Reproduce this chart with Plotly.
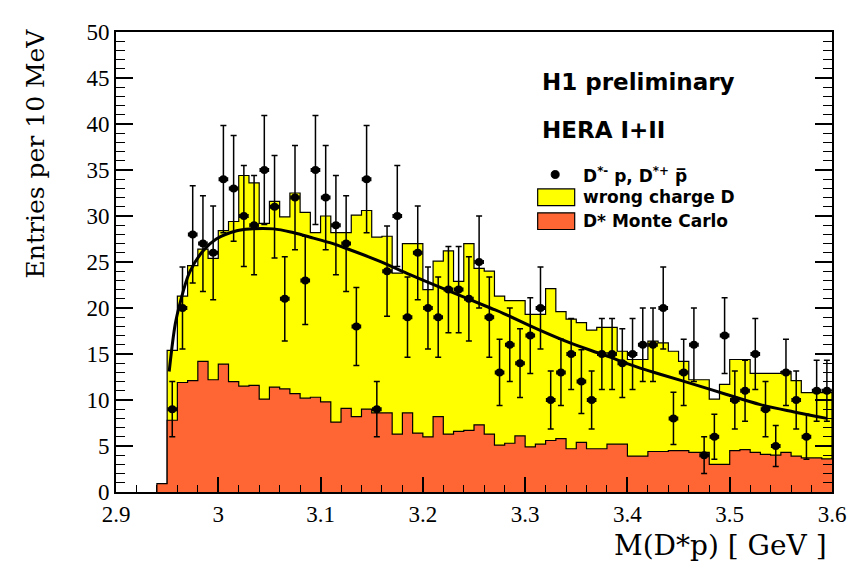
import plotly.graph_objects as go

# ---------------- data ----------------
bin_width = 0.01
wrong_charge_start = 2.95
wrong_charge = [15.4, 21.3, 24.6, 26.4, 25.4, 28.4, 29.4, 34.4, 33.6, 29.2,
                31.6, 29.9, 32.5, 30.4, 28.2, 30.0, 28.2, 28.2, 30.1, 30.6,
                27.7, 27.8, 23.8, 27.0, 27.0, 22.0, 25.1, 26.2, 22.9, 27.0,
                24.3, 24.0, 21.3, 20.8, 20.8, 19.3, 19.3, 22.1, 19.6, 18.8,
                18.4, 17.6, 17.9, 17.9, 15.3, 14.4, 14.4, 16.4, 16.2, 15.3,
                14.2, 12.2, 12.2, 10.1, 11.7, 14.4, 14.4, 12.9, 12.9, 12.9,
                13.1, 12.1, 10.8, 10.8, 10.8]

mc_start = 2.94
mc = [0.9, 7.8, 11.9, 12.1, 14.2, 12.2, 13.9, 12.0, 11.5, 11.6, 10.1,
      11.4, 11.2, 10.7, 10.2, 10.3, 9.8, 7.6, 9.1, 8.2, 9.0,
      8.6, 8.6, 6.3, 8.6, 6.4, 6.0, 8.2, 6.3, 6.6, 6.7,
      7.3, 6.3, 5.1, 5.3, 6.1, 4.9, 5.2, 5.6, 5.8, 4.7,
      5.4, 4.7, 4.7, 5.2, 5.2, 3.9, 3.9, 4.4, 4.4, 4.5,
      4.5, 4.3, 4.3, 3.0, 3.0, 4.5, 4.6, 4.3, 4.1, 4.0,
      4.3, 3.9, 3.7, 3.7, 3.6, 3.6]

data_start = 2.95
data_counts = [9, 20, 28, 27, 26, 34, 33, 30, 29, 35,
               31, 21, 32, 23, 35, 32, 29, 27, 18, 34,
               9, 24, 30, 19, 26, 20, 19, 22, 22, 21,
               25, 19, 13, 16, 14, 17, 20, 10, 13, 15,
               12, 10, 15, 15, 14, 15, 16, 16, 20, 8,
               13, 16, 4, 6, 17, 10, 11, 15, 9, 5,
               13, 10, 6, 11, 11]
data_err = [3.0, 4.47, 5.29, 5.2, 5.1, 5.83, 5.74, 5.48, 5.39, 5.92,
            5.57, 4.58, 5.66, 4.8, 5.92, 5.66, 5.39, 5.2, 4.24, 5.83,
            3.0, 4.9, 5.48, 4.36, 5.1, 4.47, 4.36, 4.69, 4.69, 4.58,
            5.0, 4.36, 3.61, 4.0, 3.74, 4.12, 4.47, 3.16, 3.61, 3.87,
            3.46, 3.16, 3.87, 3.87, 3.74, 3.87, 4.0, 4.0, 4.47, 2.83,
            3.61, 4.0, 2.0, 2.45, 4.12, 3.16, 3.32, 3.87, 3.0, 2.24,
            3.61, 3.16, 2.45, 3.32, 3.32]

fit_x = [2.952, 2.958, 2.963, 2.972, 2.985, 2.998, 3.018, 3.031, 3.054, 3.073,
         3.093, 3.109, 3.122, 3.155, 3.188, 3.220, 3.266, 3.279, 3.312, 3.344,
         3.377, 3.409, 3.432, 3.465, 3.497, 3.530, 3.563, 3.595]
fit_y = [13.1, 18.3, 20.7, 23.9, 26.2, 27.5, 28.4, 28.6, 28.6, 28.2,
         27.6, 27.1, 26.6, 25.2, 23.6, 22.1, 20.0, 19.4, 17.7, 16.2,
         14.9, 13.6, 12.8, 11.7, 10.6, 9.5, 8.7, 8.0]

x_tick_vals = [2.9, 3.0, 3.1, 3.2, 3.3, 3.4, 3.5, 3.6]
x_tick_text = ["2.9", "3", "3.1", "3.2", "3.3", "3.4", "3.5", "3.6"]
y_tick_vals = [0, 5, 10, 15, 20, 25, 30, 35, 40, 45, 50]


def step_xy(start, values):
    edges = [round(start + i * bin_width, 4) for i in range(len(values) + 1)]
    xs = [edges[0]] + edges[:-1] + [edges[-1]]
    ys = [0] + list(values) + [0]
    return xs, ys


fig = go.Figure()

yx, yy = step_xy(wrong_charge_start, wrong_charge)
fig.add_trace(go.Scatter(x=yx, y=yy, mode="lines", line=dict(shape="hv", color="black", width=1.2),
                         fill="tozeroy", fillcolor="#FFFF00", name="wrong charge D", showlegend=False))

mx, my = step_xy(mc_start, mc)
fig.add_trace(go.Scatter(x=mx, y=my, mode="lines", line=dict(shape="hv", color="black", width=1.2),
                         fill="tozeroy", fillcolor="#FF6633", name="D* Monte Carlo", showlegend=False))

fig.add_trace(go.Scatter(x=fit_x, y=fit_y, mode="lines", line=dict(color="black", width=3, shape="spline"),
                         showlegend=False))

data_x = [round(data_start + (i + 0.5) * bin_width, 4) for i in range(len(data_counts))]
fig.add_trace(go.Scatter(
    x=data_x, y=data_counts, mode="markers",
    marker=dict(color="black", size=8, symbol="circle"),
    error_y=dict(type="data", array=data_err, visible=True, color="black", thickness=1.5, width=3),
    error_x=dict(type="constant", value=bin_width / 2 * 0.8, visible=True, color="black", thickness=1.5, width=2),
    showlegend=False))

# ---------------- layout ----------------
# the page body adds an 8 px margin, so the figure is drawn 8 px smaller / shifted
OFF = 8
PLOT_X0, PLOT_X1 = 116, 831.7
PLOT_Y0, PLOT_Y1 = 21.7, 491.7
W, H = 861 - OFF, 563 - OFF
L = PLOT_X0 - OFF
T = PLOT_Y0 - OFF
pw = PLOT_X1 - PLOT_X0
ph = PLOT_Y1 - PLOT_Y0
R = W - L - pw
B = H - T - ph


def px(X):
    return (X - PLOT_X0) / pw


def py(Y):
    return (PLOT_Y1 - Y) / ph


fig.update_layout(
    width=W, height=H, margin=dict(l=L, r=R, t=T, b=B, pad=0), autosize=False,
    plot_bgcolor="white", paper_bgcolor="white", showlegend=False,
    xaxis=dict(range=[2.9, 3.6], tickmode="array", tickvals=x_tick_vals, ticktext=x_tick_text,
               ticks="inside", ticklen=15, tickwidth=1.5, tickcolor="black",
               minor=dict(tickmode="linear", tick0=2.9, dtick=0.02, ticks="inside", ticklen=7,
                          tickwidth=1.2, tickcolor="black"),
               showline=True, linecolor="black", linewidth=2, mirror=True,
               showgrid=False, zeroline=False,
               tickfont=dict(family="Liberation Serif", size=23, color="black")),
    yaxis=dict(range=[0, 50], tickmode="array", tickvals=y_tick_vals,
               ticks="inside", ticklen=17, tickwidth=1.5, tickcolor="black",
               minor=dict(tickmode="linear", tick0=0, dtick=1, ticks="inside", ticklen=9,
                          tickwidth=1.2, tickcolor="black"),
               showline=True, linecolor="black", linewidth=2, mirror="ticks",
               showgrid=False, zeroline=False,
               tickfont=dict(family="Liberation Serif", size=23, color="black")),
)

serif = dict(family="DejaVu Serif", color="black")
boldf = "DejaVu Sans"

annotations = [
    dict(text="M(D*p) [ GeV ]", x=px(829), y=py(546), xanchor="right", yanchor="middle",
         font=dict(size=28, **serif)),
    dict(text="Entries per 10 MeV", x=px(35), y=py(16), xanchor="center", yanchor="top", textangle=-90,
         font=dict(size=25, **serif)),
    dict(text="<b>H1 preliminary</b>", x=px(540), y=py(73), xanchor="left", yanchor="middle",
         font=dict(family=boldf, size=23, color="black")),
    dict(text="<b>HERA I+II</b>", x=px(540), y=py(122), xanchor="left", yanchor="middle",
         font=dict(family=boldf, size=23, color="black")),
    dict(text="<b>D<sup>*-</sup> p, D<sup>*+</sup> p\u0305</b>", x=px(581), y=py(168), xanchor="left",
         yanchor="middle", font=dict(family=boldf, size=17, color="black")),
    dict(text="<b>wrong charge D</b>", x=px(581), y=py(190), xanchor="left", yanchor="middle",
         font=dict(family=boldf, size=17, color="black")),
    dict(text="<b>D* Monte Carlo</b>", x=px(581), y=py(215), xanchor="left", yanchor="middle",
         font=dict(family=boldf, size=17, color="black")),
]
for a in annotations:
    a.update(xref="paper", yref="paper", showarrow=False)
fig.update_layout(annotations=annotations)

shapes = [
    dict(type="rect", x0=px(537.5), x1=px(574.5), y0=py(199), y1=py(182), fillcolor="#FFFF00",
         line=dict(color="black", width=1.2)),
    dict(type="rect", x0=px(537.5), x1=px(574.5), y0=py(223.5), y1=py(206.5), fillcolor="#FF6633",
         line=dict(color="black", width=1.2)),
    dict(type="circle", x0=px(551), x1=px(559), y0=py(171.3), y1=py(163.3), fillcolor="black",
         line=dict(color="black", width=1)),
]
for s in shapes:
    s.update(xref="paper", yref="paper", layer="above")
fig.update_layout(shapes=shapes)

fig.write_html("out.html")
